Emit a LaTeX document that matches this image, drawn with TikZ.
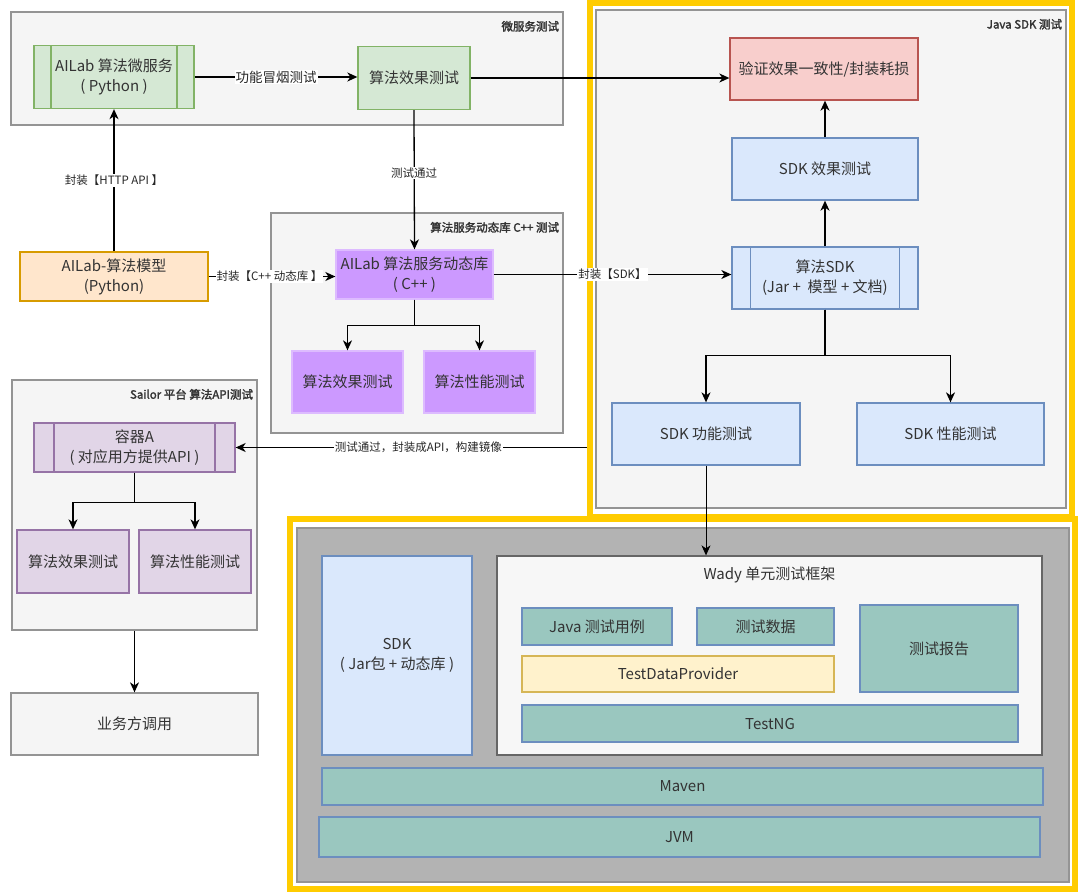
\documentclass[tikz,border=0pt]{standalone}
\usepackage{fontspec}
\setmainfont{Noto Sans CJK SC}[AutoFakeBold=2]
\usetikzlibrary{arrows.meta,positioning,calc}

\definecolor{grpfill}{HTML}{F5F5F5}
\definecolor{grpline}{HTML}{666666}
\definecolor{greenfill}{HTML}{D5E8D4}
\definecolor{greenline}{HTML}{82B366}
\definecolor{bluefill}{HTML}{DAE8FC}
\definecolor{blueline}{HTML}{6C8EBF}
\definecolor{redfill}{HTML}{F8CECC}
\definecolor{redline}{HTML}{B85450}
\definecolor{orangefill}{HTML}{FFE6CC}
\definecolor{orangeline}{HTML}{D79B00}
\definecolor{purplefill}{HTML}{CC99FF}
\definecolor{purpleline}{HTML}{DDBBFF}
\definecolor{lilacfill}{HTML}{E1D5E7}
\definecolor{lilacline}{HTML}{9673A6}
\definecolor{tealfill}{HTML}{9AC7BF}
\definecolor{yellowfill}{HTML}{FFF2CC}
\definecolor{yellowline}{HTML}{D6B656}
\definecolor{frameyellow}{HTML}{FFCC00}
\definecolor{basegrey}{HTML}{B3B3B3}
\definecolor{txt}{HTML}{333333}

\tikzset{
  every picture/.style={line width=1.3pt},
  grp/.style={draw=grpline!70, fill=grpfill, line width=1.3pt, inner sep=0},
  grplabel/.style={font=\fontsize{11.5}{13}\selectfont\bfseries, text=txt, anchor=north east, inner sep=2},
  frame/.style={draw=frameyellow, line width=6pt, inner sep=0},
  box/.style={draw, line width=1.3pt, align=center, inner sep=0,
    font=\fontsize{15}{20}\selectfont, text=txt},
  greenbox/.style={box, fill=greenfill, draw=greenline},
  bluebox/.style={box, fill=bluefill, draw=blueline},
  redbox/.style={box, fill=redfill, draw=redline},
  orangebox/.style={box, fill=orangefill, draw=orangeline},
  purplebox/.style={box, fill=purplefill, draw=purpleline},
  lilacbox/.style={box, fill=lilacfill, draw=lilacline},
  tealbox/.style={box, fill=tealfill, draw=blueline},
  procbox/.style 2 args={path picture={
    \draw[line width=1.3pt, draw=#1]
      ([xshift=#2]path picture bounding box.north west) -- ([xshift=#2]path picture bounding box.south west)
      ([xshift=-#2]path picture bounding box.north east) -- ([xshift=-#2]path picture bounding box.south east);}},
  arr/.style={-{Stealth[length=10pt, width=9pt, inset=3pt]}, line width=1.3pt},
  elabel/.style={fill=white, inner sep=1pt, font=\fontsize{11.5}{13}\selectfont, text=black!85},
}

\begin{document}
\begin{tikzpicture}[x=1pt, y=-1pt]
\useasboundingbox (0,0) rectangle (1080,892);

% groups
\node[grp, minimum width=552, minimum height=113] (gmicro) at (287,68.5) {};
\node[grplabel] (lmicro) at ([shift={(-2pt,-7pt)}]gmicro.north east) {微服务测试};
\node[grp, minimum width=292, minimum height=220] (gcpp) at (417,323) {};
\node[grplabel] (lcpp) at ([shift={(-2pt,-7pt)}]gcpp.north east) {算法服务动态库 C++ 测试};
\node[grp, minimum width=245, minimum height=250] (gsailor) at (134.5,505) {};
\node[grplabel] (lsailor) at ([shift={(-2pt,-7pt)}]gsailor.north east) {Sailor 平台 算法API测试};
\node[frame, minimum width=482, minimum height=514] (fjava) at (831,260) {};
\node[grp, minimum width=470, minimum height=498] (gjava) at (831,259) {};
\node[grplabel] (ljava) at ([shift={(-2pt,-7pt)}]gjava.north east) {Java SDK 测试};
\node[frame, minimum width=785, minimum height=370] (fwady) at (682.5,704) {};
\node[grp, fill=basegrey, minimum width=772, minimum height=354] (gbase) at (683,705) {};

% micro service
\node[greenbox, procbox={greenline}{17pt}, minimum width=160, minimum height=63] (msvc) at (114,77) {AILab 算法微服务\\( Python )};
\node[greenbox, minimum width=112, minimum height=63] (effect) at (414,78) {算法效果测试};
\node[orangebox, minimum width=188, minimum height=49] (model) at (114,276.5) {AILab-算法模型\\(Python)};

% c++ lib
\node[purplebox, minimum width=157, minimum height=49] (cpplib) at (414.5,274.5) {AILab 算法服务动态库\\( C++ )};
\node[purplebox, minimum width=111, minimum height=62] (cppeff) at (347.5,382) {算法效果测试};
\node[purplebox, minimum width=111, minimum height=62] (cppperf) at (479.5,382) {算法性能测试};

% java sdk
\node[redbox, minimum width=188, minimum height=62] (verify) at (824,69) {验证效果一致性/封装耗损};
\node[bluebox, minimum width=186, minimum height=62] (sdkeff) at (825,169) {SDK 效果测试};
\node[bluebox, procbox={blueline}{18.5pt}, minimum width=186, minimum height=62] (sdk) at (825,278) {算法SDK\\(Jar +\ \ 模型 + 文档)};
\node[bluebox, minimum width=188, minimum height=62] (sdkfunc) at (706,434) {SDK 功能测试};
\node[bluebox, minimum width=187, minimum height=62] (sdkperf) at (950.5,434) {SDK 性能测试};

% sailor
\node[lilacbox, procbox={lilacline}{20pt}, minimum width=201, minimum height=49] (container) at (134.5,447.5) {容器A\\( 对应用方提供API )};
\node[lilacbox, minimum width=112, minimum height=63] (saeff) at (73,561.5) {算法效果测试};
\node[lilacbox, minimum width=112, minimum height=63] (saperf) at (195,561.5) {算法性能测试};
\node[box, fill=grpfill, draw=grpline!70, minimum width=247, minimum height=62] (caller) at (134.5,724) {业务方调用};

% wady stack
\node[bluebox, minimum width=150, minimum height=199] (sdkpkg) at (397,655.5) {SDK\\( Jar包 + 动态库 )};
\node[box, fill=white!97!black, draw=grpline, minimum width=545, minimum height=199] (wady) at (769.5,655.5) {};
\node[font=\fontsize{15}{18}\selectfont, text=txt, anchor=north] (lwady) at ([yshift=-8pt]wady.north) {Wady 单元测试框架};
\node[tealbox, minimum width=150, minimum height=37] (javacase) at (597,626.5) {Java 测试用例};
\node[tealbox, minimum width=137, minimum height=37] (tdata) at (765.5,626.5) {测试数据};
\node[tealbox, minimum width=158, minimum height=87] (report) at (939,648.5) {测试报告};
\node[box, fill=yellowfill, draw=yellowline, minimum width=312, minimum height=36] (tdp) at (678,674) {TestDataProvider};
\node[tealbox, minimum width=496, minimum height=37] (testng) at (770,723.5) {TestNG};
\node[tealbox, minimum width=721, minimum height=37] (maven) at (682.5,786.5) {Maven};
\node[tealbox, minimum width=721, minimum height=40] (jvm) at (679.5,837) {JVM};

% connectors
\draw[arr] (msvc.east) -- (msvc.east -| effect.west)
  node[elabel, font=\fontsize{13.5}{15}\selectfont, pos=0.5] {功能冒烟测试};
\draw[arr] (effect.east) -- (effect.east -| verify.west);
\draw[arr] (effect.south) -- (cpplib.north) node[elabel, pos=0.45] {测试通过};
\draw[arr] (model.north) -- (msvc.south) node[elabel, pos=0.5] {封装【HTTP API 】};
\draw[arr] (model.east) -- (model.east -| cpplib.west) node[elabel, pos=0.48] {封装【C++ 动态库 】};
\draw[arr] (cpplib.east) -- (cpplib.east -| sdk.west) node[elabel, pos=0.5] {封装【SDK】};
\draw[arr] (cpplib.south) -- ++(0,26) -| (cppeff.north);
\draw[arr] (cpplib.south) -- ++(0,26) -| (cppperf.north);
\draw[arr] (sdkeff.north) -- (verify.south -| sdkeff.north);
\draw[arr] (sdk.north) -- (sdkeff.south);
\draw[arr] (sdk.south) -- ++(0,46) -| (sdkfunc.north);
\draw[arr] (sdk.south) -- ++(0,46) -| (sdkperf.north);
\draw[arr, line width=0.9pt] (sdkfunc.south) -- (sdkfunc.south |- wady.north);
\draw[arr] (fjava.west |- container.east) -- (container.east) node[elabel, pos=0.48] {测试通过，封装成API，构建镜像};
\draw[arr] (container.south) -- ++(0,30) -| (saeff.north);
\draw[arr] (container.south) -- ++(0,30) -| (saperf.north);
\draw[arr] (gsailor.south) -- (caller.north);
\end{tikzpicture}
\end{document}
